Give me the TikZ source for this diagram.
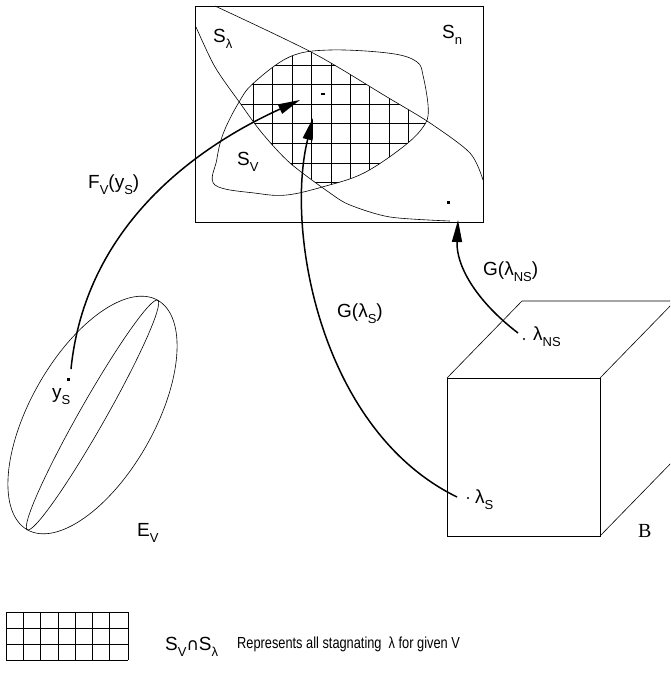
\documentclass[tikz,border=0pt]{standalone}
\usepackage{fontspec}
\setmainfont{Liberation Sans}
\newfontfamily\timesfont{Liberation Serif}
\newfontfamily\symfont{DejaVu Sans}
\usetikzlibrary{arrows.meta}
% lowered, smaller subscript as in the drawing
\newcommand{\lsub}[1]{\raisebox{-6pt}{\fontsize{13}{13}\selectfont #1}}

\begin{document}
\begin{tikzpicture}[x=1pt, y=-1pt, >={Triangle[length=22pt,width=10pt]},
  lab/.style={anchor=base west, inner sep=0pt, font=\fontsize{19}{22}\selectfont},
  maparrow/.style={->, line width=1.5pt},
  outline/.style={line width=0.6pt},
  gridline/.style={line width=0.7pt}]
  \clip (0,0) rectangle (670,675);

  % 空間 S_n の枠
  \draw[outline] (195,6) rectangle (483,222);

  % S_V と S_lambda の共通部分の格子
  \begin{scope}
    \clip plot[smooth cycle, tension=0.6] coordinates {(215,185) (216.7,160) (223.3,133.3) (238.3,103.3) (253.3,83.3) (290,56.7) (330,50) (390,53.3) (416.7,61.7) (423.3,76.7) (428.3,110) (423.3,126.7) (403.3,146.7) (363.3,173.3) (323.3,186.7) (286.7,195) (256.7,193.3)};
    \clip plot[smooth] coordinates {(215,6) (313,53) (387,97) (430,123) (470,153) (483,180)} -- (483,222)
      -- plot[smooth] coordinates {(450,221) (390,217) (350,205) (330,193) (290,163) (262,133) (240,103) (215,67) (196,27)} -- (196,6) -- cycle;
    \foreach \i in {0,...,9} {
      \draw[gridline] (253.3+19.4*\i,40) -- ++(0,170);
    }
    \foreach \j in {0,...,7} {
      \draw[gridline] (200,65+19.6*\j) -- ++(250,0);
    }
  \end{scope}

  % S_V の境界
  \draw[outline] plot[smooth cycle, tension=0.6] coordinates {(215,185) (216.7,160) (223.3,133.3) (238.3,103.3) (253.3,83.3) (290,56.7) (330,50) (390,53.3) (416.7,61.7) (423.3,76.7) (428.3,110) (423.3,126.7) (403.3,146.7) (363.3,173.3) (323.3,186.7) (286.7,195) (256.7,193.3)};

  % S_lambda の二本の境界
  \draw[outline] plot[smooth] coordinates {(215,6) (313,53) (387,97) (430,123) (470,153) (483,180)};
  \draw[outline] plot[smooth] coordinates {(196,27) (215,67) (240,103) (262,133) (290,163) (330,193) (350,205) (390,217) (450,221)};

  % 楕円体 E_V
  \draw[outline, rotate around={60.4:(92.5,415)}] (92.5,415) ellipse [x radius=132, y radius=62];
  \draw[outline, rotate around={60.4:(92.5,415)}] (92.5,415) ellipse [x radius=132, y radius=13];

  % 箱 B
  \draw[outline] (447,378) rectangle (600,536);
  \draw[outline] (447,378) -- (522,301) -- (690,301);
  \draw[outline] (600,378) -- (675,301);
  \draw[outline] (600,536) -- (675,459);

  % 点
  \fill (66.5,378) rectangle (70,380.5);
  \fill (321,92.5) rectangle (325,95);
  \fill (447,201) rectangle (449.5,203.5);
  \fill (524,339) circle (1.1pt);
  \fill (468,498) circle (1.1pt);

  % 写像の矢印
  \coordinate (Fs) at (71,369);
  \coordinate (Fe) at (300,100);
  \coordinate (Gs) at (457,497);
  \coordinate (Ge) at (313,118);
  \coordinate (Hs) at (518,333);
  \coordinate (He) at (458,220);
  \draw[maparrow] (Fs) .. controls (85,230) and (190,150) .. (Fe);
  \draw[maparrow] (Gs) .. controls (320,430) and (285,230) .. (Ge);
  \draw[maparrow] (Hs) .. controls (475,300) and (456,265) .. (He);

  % ラベル
  \node[lab] (Sn) at (442,38) {S\lsub{n}};
  \node[lab] (Slam) at (213,42) {S\lsub{λ}};
  \node[lab] (SV) at (237,165) {S\lsub{V}};
  \node[lab] (FV) at (88,188) {F\lsub{V}(y\lsub{S})};
  \node[lab] (ys) at (52,398) {y\lsub{S}};
  \node[lab] (GlS) at (337,317) {G(λ\lsub{S})};
  \node[lab] (GlNS) at (483,275) {G(λ\lsub{NS})};
  \node[lab] (lNS) at (533,340) {λ\lsub{NS}};
  \node[lab] (lS) at (475,503) {λ\lsub{S}};
  \node[lab] (EV) at (137,536) {E\lsub{V}};
  \node[lab, font=\timesfont\fontsize{20}{22}\selectfont] (B) at (638,537) {B};

  % 凡例
  \foreach \i in {0,...,6} {
    \draw[gridline] (6+17.3*\i,612) -- ++(0,48);
  }
  \draw[gridline] (128,612) -- ++(0,48);
  \foreach \j in {0,...,3} {
    \draw[gridline] (6,612+16*\j) -- ++(122,0);
  }
  \node[lab] (leg) at (165,650) {S\lsub{V}{\symfont\fontsize{17}{17}\selectfont ∩}S\lsub{λ}};
  \node[lab, font=\fontsize{16}{18}\selectfont] (legtext) at (237,648) {\scalebox{0.8}[1]{Represents all stagnating \ λ for given V}};
\end{tikzpicture}
\end{document}
